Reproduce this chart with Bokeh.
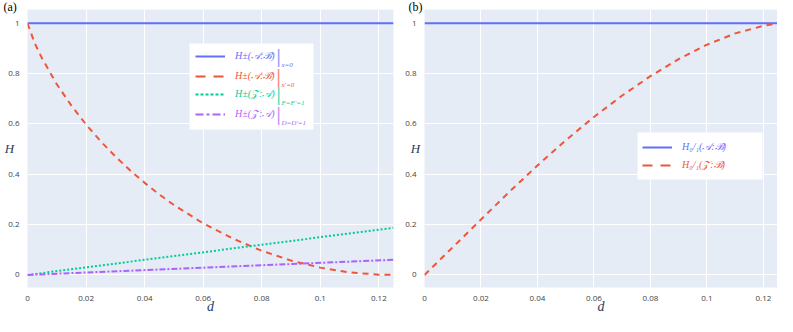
import numpy as np
from bokeh.plotting import figure
from bokeh.models import Legend, LegendItem, Label, BoxAnnotation, FixedTicker, Range1d
from bokeh.layouts import row
from bokeh.embed import file_html
from bokeh.resources import INLINE

# ---------------- data ----------------
# panel (a)
d_a = [0, 0.0025, 0.005, 0.01, 0.015, 0.02, 0.025, 0.03, 0.035, 0.04, 0.045, 0.05,
       0.06, 0.07, 0.08, 0.09, 0.1, 0.11, 0.12, 0.125]
h_ab_x0 = [1.0] * len(d_a)
h_ab_xp0 = [1.0, 0.92, 0.86, 0.758, 0.673, 0.598, 0.531, 0.471, 0.416, 0.366, 0.32, 0.278,
            0.205, 0.145, 0.096, 0.057, 0.029, 0.010, 0.001, 0.0]
d_lin = [0, 0.125]
h_za_f1 = [0.0, 0.1875]
h_za_d1 = [0.0, 0.06]

# panel (b)
d_b = [0, 0.01, 0.02, 0.03, 0.04, 0.05, 0.06, 0.07, 0.08, 0.09, 0.1, 0.11, 0.12, 0.125]
h01_ab = [1.0] * len(d_b)
h01_zb = [0.0, 0.11, 0.22, 0.33, 0.435, 0.535, 0.628, 0.713, 0.79, 0.858, 0.915, 0.96, 0.99, 1.0]

xtick_vals = [0, 0.02, 0.04, 0.06, 0.08, 0.1, 0.12]
xtick_labels = ["0", "0.02", "0.04", "0.06", "0.08", "0.1", "0.12"]
ytick_vals = [0, 0.2, 0.4, 0.6, 0.8, 1]
ytick_labels = ["0", "0.2", "0.4", "0.6", "0.8", "1"]

labels_a = ["H\u00b1(\U0001D49C:\u212C)", "H\u00b1(\U0001D49C:\u212C)",
            "H\u00b1(\U0001D4B5:\U0001D49C)", "H\u00b1(\U0001D4B5:\U0001D49C)"]
subs_a = ["x=0", "x\u2032=0", "F=F\u2032=1", "D=D\u2032=1"]
labels_b = ["H\u2080/\u2081(\U0001D49C:\u212C)", "H\u2080/\u2081(\U0001D4B5:\u212C)"]

BLUE, RED, GREEN, PURPLE = "#636efa", "#EF553B", "#00cc96", "#ab63fa"
TXT = "#2a3f5f"
SERIF = "Liberation Serif"


def make_fig(width, left, right, tag, tag_offset, ylab_standoff):
    p = figure(width=width, height=316, x_range=Range1d(0, 0.125), y_range=Range1d(-0.05, 1.055),
               output_backend="svg", toolbar_location=None, title=tag,
               min_border_left=left, min_border_right=right, min_border_top=9, min_border_bottom=29)
    p.background_fill_color = "#E5ECF6"
    p.border_fill_color = "white"
    p.outline_line_color = None
    p.title.align = "left"
    p.title.offset = tag_offset
    p.title.standoff = -8
    p.title.text_font = SERIF
    p.title.text_font_style = "normal"
    p.title.text_font_size = "12px"
    p.title.text_color = "black"
    p.xaxis.ticker = FixedTicker(ticks=xtick_vals)
    p.yaxis.ticker = FixedTicker(ticks=ytick_vals)
    p.xaxis.major_label_overrides = dict(zip(xtick_vals, xtick_labels))
    p.yaxis.major_label_overrides = dict(zip(ytick_vals, ytick_labels))
    for ax in (p.xaxis[0], p.yaxis[0]):
        ax.axis_line_color = None
        ax.major_tick_line_color = None
        ax.minor_tick_line_color = None
        ax.major_label_text_font_size = "8px"
        ax.major_label_text_color = "#444444"
        ax.major_label_text_font = "Open Sans"
        ax.axis_label_text_font = SERIF
        ax.axis_label_text_font_style = "italic"
        ax.axis_label_text_color = TXT
    p.xaxis.axis_label = "d"
    p.xaxis.axis_label_text_font_size = "14px"
    p.xaxis.axis_label_standoff = -5
    p.yaxis.axis_label = "H"
    p.yaxis.axis_label_text_font_size = "13px"
    p.yaxis.axis_label_orientation = "horizontal"
    p.yaxis.axis_label_standoff = ylab_standoff
    p.xaxis.major_label_standoff = 2
    p.yaxis.major_label_standoff = 2
    p.grid.grid_line_color = "white"
    p.grid.grid_line_width = 1
    return p


def add_legend(p, specs, loc_x, row_ys, sub_texts, bar_x, sub_x, box):
    l, r, b, t = box
    p.add_layout(BoxAnnotation(left=l, right=r, bottom=b, top=t, left_units="screen",
                               right_units="screen", bottom_units="screen", top_units="screen",
                               fill_color="white", fill_alpha=1, line_color=None, level="underlay"))
    for i, (label, color, dash) in enumerate(specs):
        dummy = p.line(x=np.array([np.nan]), y=np.array([np.nan]), line_color=color,
                       line_width=2, line_dash=dash)
        lg = Legend(items=[LegendItem(label=label, renderers=[dummy])],
                    location=(loc_x, row_ys[i] - 9), orientation="vertical",
                    background_fill_alpha=0, border_line_alpha=0, padding=0, margin=0,
                    glyph_width=30, glyph_height=18, label_height=18, label_standoff=10,
                    label_text_font=SERIF, label_text_font_style="italic",
                    label_text_font_size="10px", label_text_color=color)
        p.add_layout(lg, "center")
        if sub_texts:
            p.add_layout(Label(x=bar_x, y=row_ys[i], x_units="screen", y_units="screen", text="|",
                               text_color=color, text_font_size="17px", text_baseline="middle",
                               text_align="center", text_font="DejaVu Sans", text_alpha=0.7))
            p.add_layout(Label(x=sub_x, y=row_ys[i] - 8, x_units="screen", y_units="screen",
                               text=sub_texts[i], text_color=color, text_font_size="7px",
                               text_baseline="middle", text_font=SERIF, text_font_style="italic"))


# ---------------- panel (a) ----------------
p1 = make_fig(405, 27, 12, "(a)", -24, -9)
p1.line(d_a, h_ab_x0, line_color=BLUE, line_width=2)
p1.line(d_a, h_ab_xp0, line_color=RED, line_width=2, line_dash="6 5")
p1.line(d_lin, h_za_f1, line_color=GREEN, line_width=2, line_dash="2 2")
p1.line(d_lin, h_za_d1, line_color=PURPLE, line_width=2, line_dash="6 2 2 2")
add_legend(p1,
           [(labels_a[0], BLUE, "solid"), (labels_a[1], RED, "10 8"),
            (labels_a[2], GREEN, "3 2"), (labels_a[3], PURPLE, "8 3 3 3")],
           168, [231, 211, 193, 173], subs_a, 251, 254, (162, 286, 158, 244))

# ---------------- panel (b) ----------------
p2 = make_fig(372, 19, 0, "(b)", -16, -18)
p2.line(d_b, h01_ab, line_color=BLUE, line_width=2)
p2.line(d_b, h01_zb, line_color=RED, line_width=2, line_dash="6 5")
add_legend(p2, [(labels_b[0], BLUE, "solid"), (labels_b[1], RED, "10 8")],
           218, [140, 122], None, 0, 0, (213, 338, 108, 155))

layout = row(p1, p2)
open("out.html", "w").write(file_html(layout, INLINE))
